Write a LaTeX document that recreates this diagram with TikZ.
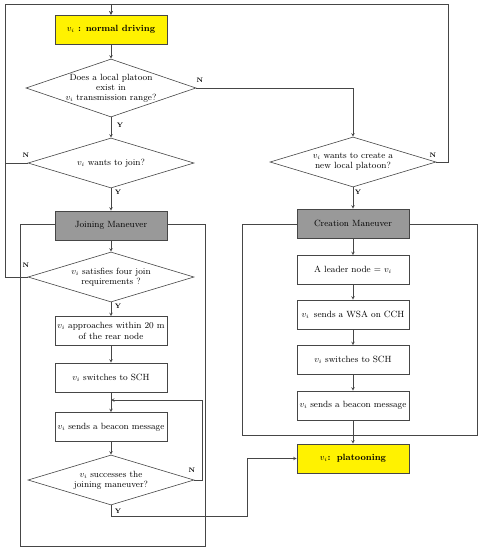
\documentclass[tikz,border=0pt]{standalone}
\usetikzlibrary{shapes.geometric,arrows}
\tikzset{
	ln/.style={draw=gray!55!black, line width=.6pt},
	box/.style={ln, fill=white, minimum width=112pt, minimum height=29pt, inner sep=1pt, align=center, font=\fontsize{9}{10.5}\selectfont},
	state/.style={box, fill=yellow, font=\fontsize{9}{10}\selectfont\bfseries},
	manv/.style={box, fill=gray!80},
	dec/.style={diamond, ln, fill=white, minimum width=166pt, minimum height=50pt, inner sep=0pt},
	dtxt/.style={align=center, font=\fontsize{9}{10}\selectfont},
	yn/.style={font=\fontsize{6.5}{7}\selectfont\bfseries, inner sep=0pt},
}
\begin{document}
\begin{tikzpicture}[x=1pt,y=-1pt]
	\useasboundingbox (0,0) rectangle (480,550);
	% maneuver frames
	\draw[ln] (20,224) rectangle (205,546);
	\draw[ln] (242,224) rectangle (477,435);
	% left column
	\path
	(111,29.5) node[state] (nd) {$v_i$ : normal driving}
	(111,88) node[dec, minimum width=170pt, minimum height=58pt, label={[dtxt]center:Does a local platoon\\exist in\\$v_i$ transmission range?}] (d1) {}
	(111,163) node[dec, label={[dtxt]center:$v_i$ wants to join?}] (d2) {}
	(111,225.5) node[manv] (jm) {Joining Maneuver}
	(111,277) node[dec, label={[dtxt]center:$v_i$ satisfies four join\\requirements ?}] (d3) {}
	(111,331) node[box] (ap) {$v_i$ approaches within 20 m\\of the rear node}
	(111,377.5) node[box] (sw1) {$v_i$ switches to SCH}
	(111,427) node[box] (bc1) {$v_i$ sends a beacon message}
	(111,480) node[dec, label={[dtxt]center:$v_i$ successes the\\joining maneuver?}] (d4) {}
	;
	% right column
	\path
	(353,162) node[dec, label={[dtxt]center:$v_i$ wants to create a\\new local platoon?}] (d5) {}
	(353,223.5) node[manv] (cm) {Creation Maneuver}
	(353,270) node[box] (ld) {A leader node = $v_i$}
	(353,314.5) node[box] (ws) {$v_i$\, sends a WSA on CCH}
	(353,360) node[box] (sw2) {$v_i$ switches to SCH}
	(353,405.5) node[box] (bc2) {$v_i$ sends a beacon message}
	(353,458.5) node[state] (pl) {$v_i$:\, platooning}
	;
	% Y / N labels
	\path
	(200,80) node[yn] (n1) {N}
	(120,125) node[yn] (y1) {Y}
	(26,155) node[yn] (n2) {N}
	(118,192) node[yn] (y2) {Y}
	(433,155) node[yn] (n5) {N}
	(358,192) node[yn] (y5) {Y}
	(26,265) node[yn] (n3) {N}
	(118,306) node[yn] (y3) {Y}
	(192,470) node[yn] (n4) {N}
	(118,511) node[yn] (y4) {Y}
	;
	\coordinate (tl) at (5,4);
	\coordinate (tr) at (448,4);
	\coordinate (lp) at (111,400);
	\coordinate (rl) at (202,400);
	\coordinate (yb) at (247,516);
	% connectors
	\draw[ln,-stealth] (d2.west) -| (tl) -| (nd.north);
	\draw[ln,-stealth] (d3.west) -| (tl) -| (nd.north);
	\draw[ln,-stealth] (d5.east) -| (tr) -| (nd.north);
	\draw[ln,-stealth] (nd) -- (d1);
	\draw[ln,-stealth] (d1.east) -| (d5.north);
	\draw[ln,-stealth] (d1) -- (d2);
	\draw[ln,-stealth] (d2) -- (jm);
	\draw[ln,-stealth] (jm) -- (d3);
	\draw[ln,-stealth] (d3) -- (ap);
	\draw[ln,-stealth] (ap) -- (sw1);
	\draw[ln,-stealth] (sw1) -- (bc1);
	\draw[ln,-stealth] (bc1) -- (d4);
	\draw[ln,-stealth] (d4.east) -| (rl) -- (lp);
	\draw[ln,-stealth] (d4.south) |- (yb) |- (pl.west);
	\draw[ln,-stealth] (d5) -- (cm);
	\draw[ln,-stealth] (cm) -- (ld);
	\draw[ln,-stealth] (ld) -- (ws);
	\draw[ln,-stealth] (ws) -- (sw2);
	\draw[ln,-stealth] (sw2) -- (bc2);
	\draw[ln,-stealth] (bc2) -- (pl);
\end{tikzpicture}
\end{document}
